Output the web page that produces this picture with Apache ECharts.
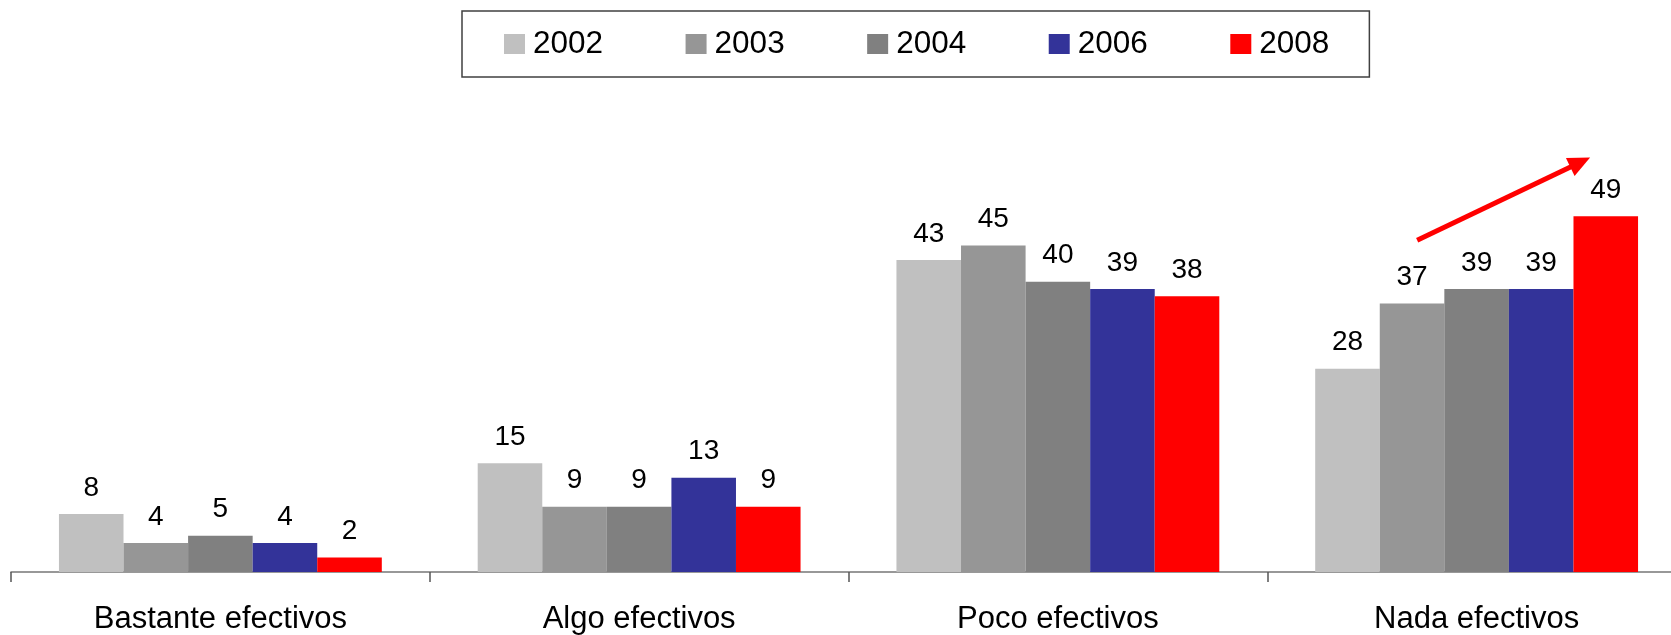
<!DOCTYPE html>
<html>
<head>
<meta charset="utf-8">
<script src="https://cdn.jsdelivr.net/npm/echarts@6/dist/echarts.min.js"></script>
<style>html,body{margin:0;padding:0;background:#fff;overflow:hidden;}#chart{width:1700px;height:635px;}</style>
</head>
<body>
<div id="chart"></div>
<script>
const categories = ['Bastante efectivos', 'Algo efectivos', 'Poco efectivos', 'Nada efectivos'];
const years = ['2002', '2003', '2004', '2006', '2008'];
const v2002 = [8, 15, 43, 28];
const v2003 = [4, 9, 45, 37];
const v2004 = [5, 9, 40, 39];
const v2006 = [4, 13, 39, 39];
const v2008 = [2, 9, 38, 49];
const colors = ['#C0C0C0', '#969696', '#808080', '#333399', '#FF0000'];
// arrow annotation: [category index, offset from category centre as fraction of band, value]
const arrowFrom = [3, -0.142, 45.7];
const arrowTo = [3, 0.271, 57.1];

const FONT = 'Liberation Sans, Arial, sans-serif';
const seriesValues = [v2002, v2003, v2004, v2006, v2008];

const chart = echarts.init(document.getElementById('chart'), null, {renderer: 'canvas'});
const series = years.map((y, i) => ({
  name: y,
  type: 'bar',
  data: seriesValues[i],
  barGap: '0%',
  barCategoryGap: '22.9%',
  itemStyle: {color: colors[i]},
  label: {show: true, position: 'top', distance: 12, color: '#000', fontSize: 28, fontFamily: FONT},
  animation: false
}));
series.push({
  type: 'custom',
  coordinateSystem: 'cartesian2d',
  silent: true,
  animation: false,
  data: [[arrowFrom[0], arrowFrom[1], arrowFrom[2], arrowTo[1], arrowTo[2]]],
  encode: {x: 0, y: 2},
  renderItem: function (params, api) {
    const band = api.size([1, 0])[0];
    const p0 = api.coord([api.value(0), api.value(2)]);
    const p1 = api.coord([api.value(0), api.value(4)]);
    const x0 = p0[0] + api.value(1) * band, y0 = p0[1];
    const x1 = p1[0] + api.value(3) * band, y1 = p1[1];
    const dx = x1 - x0, dy = y1 - y0, len = Math.sqrt(dx * dx + dy * dy);
    const ux = dx / len, uy = dy / len;
    const headLen = 22, headHalf = 10;
    const bx = x1 - ux * headLen, by = y1 - uy * headLen;
    return {
      type: 'group',
      children: [
        {type: 'line', shape: {x1: x0, y1: y0, x2: bx + ux * 2, y2: by + uy * 2}, style: {stroke: '#FF0000', lineWidth: 5}},
        {type: 'polygon', shape: {points: [[x1, y1], [bx - uy * headHalf, by + ux * headHalf], [bx + uy * headHalf, by - ux * headHalf]]}, style: {fill: '#FF0000'}}
      ]
    };
  }
});

chart.setOption({
  animation: false,
  textStyle: {fontFamily: FONT},
  legend: {
    data: years,
    left: 462,
    top: 11,
    padding: [17, 40, 17, 42],
    itemGap: 82.5,
    itemWidth: 21,
    itemHeight: 20,
    icon: 'rect',
    borderColor: '#404040',
    borderWidth: 1.5,
    backgroundColor: '#fff',
    textStyle: {fontSize: 31.5, color: '#000', fontFamily: FONT, padding: [0, 0, 0, 3]},
    selectedMode: false
  },
  grid: {left: 11, width: 1675, top: 136.5, bottom: 62.3, containLabel: false},
  xAxis: {
    type: 'category',
    data: categories,
    boundaryGap: true,
    axisLine: {show: true, lineStyle: {color: '#777', width: 1.5}},
    axisTick: {show: true, length: 10, lineStyle: {color: '#555', width: 1.5}},
    axisLabel: {fontSize: 31, color: '#000', fontFamily: FONT, margin: 32, interval: 0}
  },
  yAxis: {type: 'value', min: 0, max: 60, show: false, splitLine: {show: false}},
  series: series
});
</script>
</body>
</html>
